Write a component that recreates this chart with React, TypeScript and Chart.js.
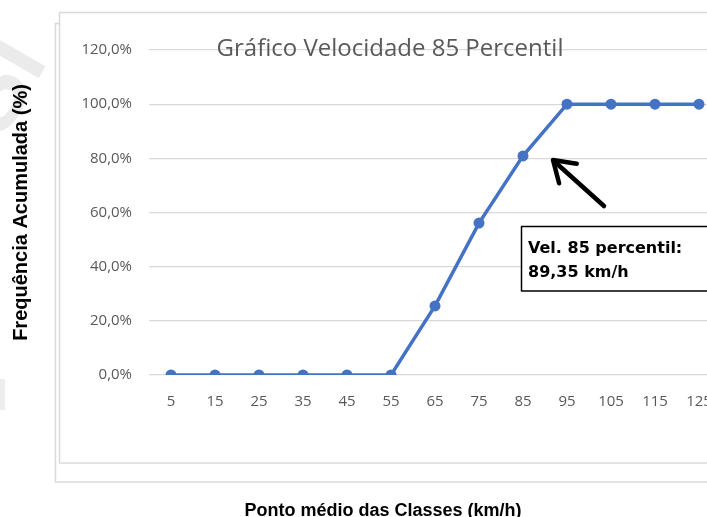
import React, { useEffect, useRef } from "react";
import { Chart, registerables } from "chart.js";

Chart.register(...registerables);

const categories = ["5", "15", "25", "35", "45", "55", "65", "75", "85", "95", "105", "115", "125"];
const cumulativeFreq = [0, 0, 0, 0, 0, 0, 25.5, 56.1, 80.9, 100, 100, 100, 100];
const yMin = 0;
const yMax = 120;
const yStep = 20;
const chartTitle = "Gráfico Velocidade 85 Percentil";
const yTitle = "Frequência Acumulada (%)";
const xTitle = "Ponto médio das Classes (km/h)";
const noteLines = ["Vel. 85 percentil:", "89,35 km/h"];

const W = 730;
const H = 517;

const decorPlugin = {
  id: "decor",
  beforeDraw(chart: any) {
    const ctx = chart.ctx;
    ctx.save();
    // watermark
    ctx.save();
    ctx.translate(2, 142);
    ctx.rotate(-Math.PI / 3);
    ctx.fillStyle = "rgba(0,0,0,0.08)";
    ctx.font = "bold 100px 'Liberation Sans'";
    ctx.textBaseline = "alphabetic";
    ctx.fillText("Si", 0, 0);
    ctx.restore();
    ctx.fillStyle = "#eeeeee";
    ctx.fillRect(0, 379, 5, 31);
    // frames
    ctx.strokeStyle = "#d9d9d9";
    ctx.lineWidth = 1.5;
    ctx.strokeRect(55.5, 23.5, 700, 458.5);
    ctx.fillStyle = "#ffffff";
    ctx.fillRect(59.5, 12.5, 700, 450.5);
    ctx.strokeRect(59.5, 12.5, 700, 450.5);
    ctx.restore();
  },
  afterDraw(chart: any) {
    const ctx = chart.ctx;
    ctx.save();
    // title
    ctx.fillStyle = "#595959";
    ctx.font = "24px 'Open Sans'";
    ctx.textAlign = "center";
    ctx.textBaseline = "alphabetic";
    ctx.fillText(chartTitle, 390, 56);
    // x title
    ctx.fillStyle = "#000000";
    ctx.font = "bold 18px 'Liberation Sans'";
    ctx.textAlign = "center";
    ctx.fillText(xTitle, 383, 516);
    // arrow
    ctx.strokeStyle = "#000000";
    ctx.lineWidth = 4.5;
    ctx.lineCap = "round";
    ctx.lineJoin = "round";
    const tx = 553, ty = 160, sx = 604, sy = 206;
    const ang = Math.atan2(sy - ty, sx - tx);
    ctx.beginPath();
    ctx.moveTo(sx, sy);
    ctx.lineTo(tx + 2, ty + 2);
    ctx.stroke();
    const al = 24, spread = 0.58;
    ctx.beginPath();
    ctx.moveTo(tx + al * Math.cos(ang - spread), ty + al * Math.sin(ang - spread));
    ctx.lineTo(tx, ty);
    ctx.lineTo(tx + al * Math.cos(ang + spread), ty + al * Math.sin(ang + spread));
    ctx.stroke();
    // note box
    ctx.fillStyle = "#ffffff";
    ctx.fillRect(521, 226, 220, 65);
    ctx.strokeStyle = "#000000";
    ctx.lineWidth = 1.5;
    ctx.strokeRect(521.5, 226.5, 220, 64.5);
    ctx.fillStyle = "#000000";
    ctx.font = "bold 16px 'DejaVu Sans'";
    ctx.textAlign = "left";
    ctx.fillText(noteLines[0], 528, 253);
    ctx.fillText(noteLines[1], 528, 277);
    ctx.restore();
  },
};

export default function App() {
  const ref = useRef<HTMLCanvasElement | null>(null);
  useEffect(() => {
    document.body.style.margin = "0";
    document.body.style.overflow = "hidden";
    const canvas = ref.current;
    if (!canvas) return;
    const chart = new Chart(canvas, {
      type: "line",
      data: {
        labels: categories,
        datasets: [
          {
            data: cumulativeFreq,
            borderColor: "#4472C4",
            backgroundColor: "#4472C4",
            borderWidth: 3.5,
            pointRadius: 5.5,
            pointBorderWidth: 0,
            pointBackgroundColor: "#4472C4",
            tension: 0,
          },
        ],
      },
      options: {
        responsive: false,
        animation: false,
        devicePixelRatio: 1,
        layout: { padding: { top: 50, left: 0, right: 9, bottom: 0 } },
        plugins: {
          legend: { display: false },
          tooltip: { enabled: false },
          title: { display: false },
        },
        scales: {
          x: {
            type: "category",
            offset: true,
            grid: { display: false },
            border: { display: false },
            ticks: {
              color: "#595959",
              font: { family: "'Open Sans'", size: 15 },
              padding: 10,
              maxRotation: 0,
              autoSkip: false,
            },
            afterFit: (scale: any) => {
              scale.height = 142;
            },
          },
          y: {
            min: yMin,
            max: yMax,
            grid: { color: "#d9d9d9", lineWidth: 1.3, drawTicks: false },
            border: { display: false },
            ticks: {
              stepSize: yStep,
              color: "#595959",
              font: { family: "'Open Sans'", size: 15 },
              padding: 17,
              callback: (v: any) => Number(v).toFixed(1).replace(".", ",") + "%",
            },
            title: {
              display: true,
              text: yTitle,
              color: "#000000",
              font: { family: "'Liberation Sans'", size: 20, weight: "bold" },
              padding: { top: 9, bottom: 0 },
            },
            afterFit: (scale: any) => {
              scale.width = 149;
            },
          },
        },
      },
      plugins: [decorPlugin],
    });
    return () => chart.destroy();
  }, []);
  return (
    <div style={{ position: "fixed", left: 0, top: 0, width: 707, height: 517, overflow: "hidden", background: "#fff" }}>
      <canvas ref={ref} width={W} height={H} style={{ width: W, height: H, display: "block" }} />
    </div>
  );
}
